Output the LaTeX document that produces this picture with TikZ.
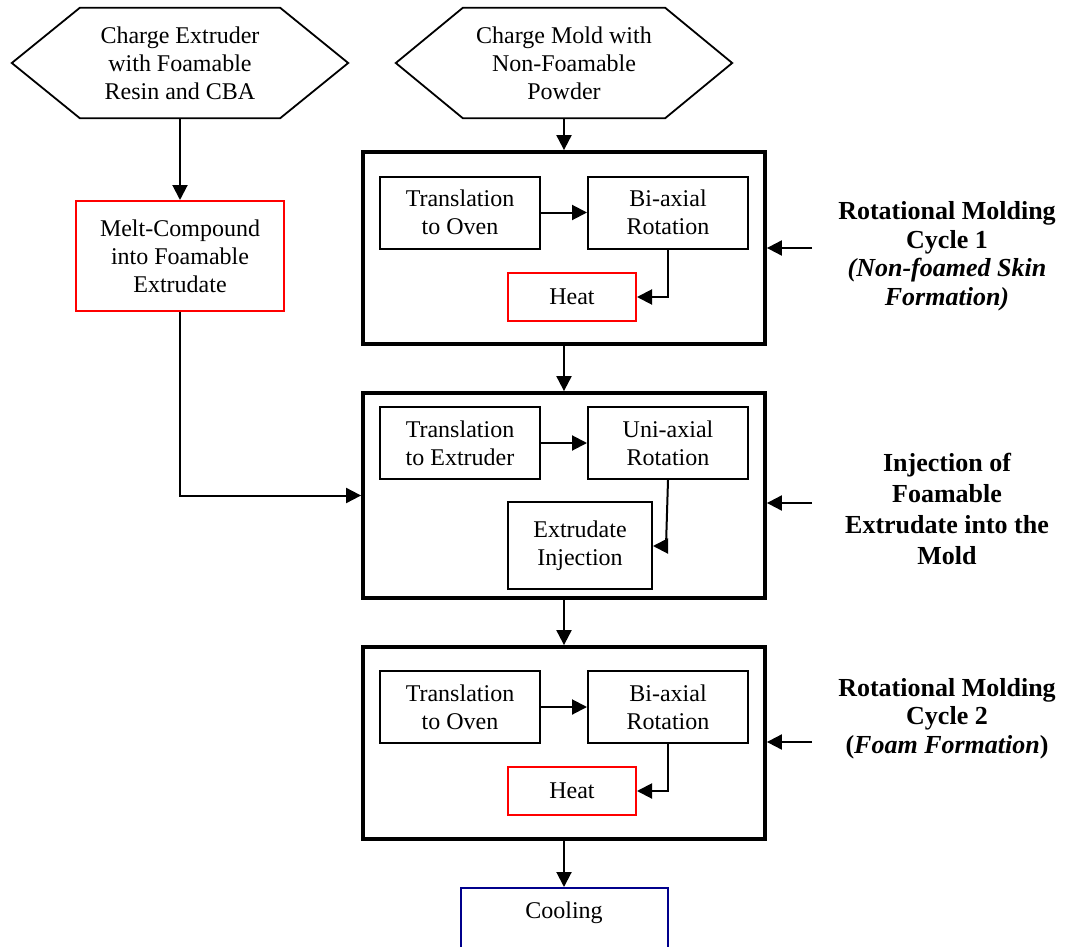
\documentclass[tikz,border=0pt]{standalone}
\usepackage{fontspec}
\setmainfont{Liberation Serif}
\usetikzlibrary{arrows.meta,calc}
\definecolor{coolblue}{RGB}{0,0,140}
\begin{document}
\begin{tikzpicture}[x=1pt,y=-1pt,
  every node/.style={font=\fontsize{24}{28}\selectfont, align=center, inner sep=0pt},
  hexnode/.style={minimum width=336pt, minimum height=110pt},
  hexline/.style={line width=1.8pt, line join=miter},
  box/.style={draw, line width=2pt, minimum width=160pt, minimum height=72pt},
  redbox/.style={box, draw=red},
  stage/.style={draw, line width=3.8pt, minimum width=402pt},
  coolbox/.style={draw=coolblue, line width=2pt},
  conn/.style={line width=2pt, -{Triangle[length=15pt,width=15pt]}},
  lbl/.style={font=\fontsize{26}{28.5}\selectfont\bfseries},
]
\useasboundingbox (0,0) rectangle (1065,947);

% start hexagons
\node[hexnode] (hexA) at (180,63) {Charge Extruder\\with Foamable\\Resin and CBA};
\draw[hexline] (hexA.west) -- ($(hexA.north west)+(68,0)$) -- ($(hexA.north east)+(-68,0)$)
  -- (hexA.east) -- ($(hexA.south east)+(-68,0)$) -- ($(hexA.south west)+(68,0)$) -- cycle;
\node[hexnode] (hexB) at (564,63) {Charge Mold with\\Non-Foamable\\Powder};
\draw[hexline] (hexB.west) -- ($(hexB.north west)+(67,0)$) -- ($(hexB.north east)+(-67,0)$)
  -- (hexB.east) -- ($(hexB.south east)+(-67,0)$) -- ($(hexB.south west)+(67,0)$) -- cycle;

% extruder branch
\node[redbox, minimum width=208pt, minimum height=110pt] (melt) at (180,256)
  {Melt-Compound\\into Foamable\\Extrudate};

% stage frames
\node[stage, minimum height=192pt] (s1) at (564,248) {};
\node[stage, minimum height=205pt] (s2) at (564,495.5) {};
\node[stage, minimum height=192pt] (s3) at (564,743) {};

% stage 1
\node[box] (trA) at (460,212.5) {Translation\\to Oven};
\node[box] (biA) at (668,212.5) {Bi-axial\\Rotation};
\node[redbox, minimum width=128pt, minimum height=48pt] (heatA) at (572,297) {Heat};

% stage 2
\node[box] (trB) at (460,443) {Translation\\to Extruder};
\node[box] (uniB) at (668,443) {Uni-axial\\Rotation};
\node[box, minimum width=144pt, minimum height=87pt] (injB) at (580,545.5) {Extrudate\\Injection};

% stage 3
\node[box] (trC) at (460,707) {Translation\\to Oven};
\node[box] (biC) at (668,707) {Bi-axial\\Rotation};
\node[redbox, minimum width=128pt, minimum height=48pt] (heatC) at (572,791) {Heat};

% cooling
\node[coolbox, anchor=north, minimum width=207pt, minimum height=80pt] (cool) at (564,887) {};
\node (coolT) at (564,913) {Cooling};

% side labels
\node[lbl] (lblA) at (947,256) {Rotational Molding\\Cycle 1\\\itshape(Non-foamed Skin\\\itshape Formation)};
\node[lbl, font=\fontsize{26}{31}\selectfont\bfseries] (lblB) at (947,508.5) {Injection of\\Foamable\\Extrudate into the\\Mold};
\node[lbl] (lblC) at (947,718.5) {Rotational Molding\\Cycle 2\\(\textit{Foam Formation})};

\coordinate (inA) at (812,248);
\coordinate (inB) at (812,503);
\coordinate (inC) at (812,742);
\coordinate (bendB) at (666,546);

% main flow
\draw[conn] (hexA.south) -- (melt.north);
\draw[conn] (melt.south) |- (s2.west);
\draw[conn] (hexB.south) -- (s1.north);
\draw[conn] (s1.south) -- (s2.north);
\draw[conn] (s2.south) -- (s3.north);
\draw[conn] (s3.south) -- (cool.north);

% inner flow
\draw[conn] (trA) -- (biA);
\draw[conn] (biA.south) |- (heatA.east);
\draw[conn] (trB) -- (uniB);
\draw[conn] (uniB.south) -- (bendB) -- (injB.east |- bendB);
\draw[conn] (trC) -- (biC);
\draw[conn] (biC.south) |- (heatC.east);

% side inputs
\draw[conn] (inA) -- (s1.east |- inA);
\draw[conn] (inB) -- (s2.east |- inB);
\draw[conn] (inC) -- (s3.east |- inC);
\end{tikzpicture}
\end{document}
